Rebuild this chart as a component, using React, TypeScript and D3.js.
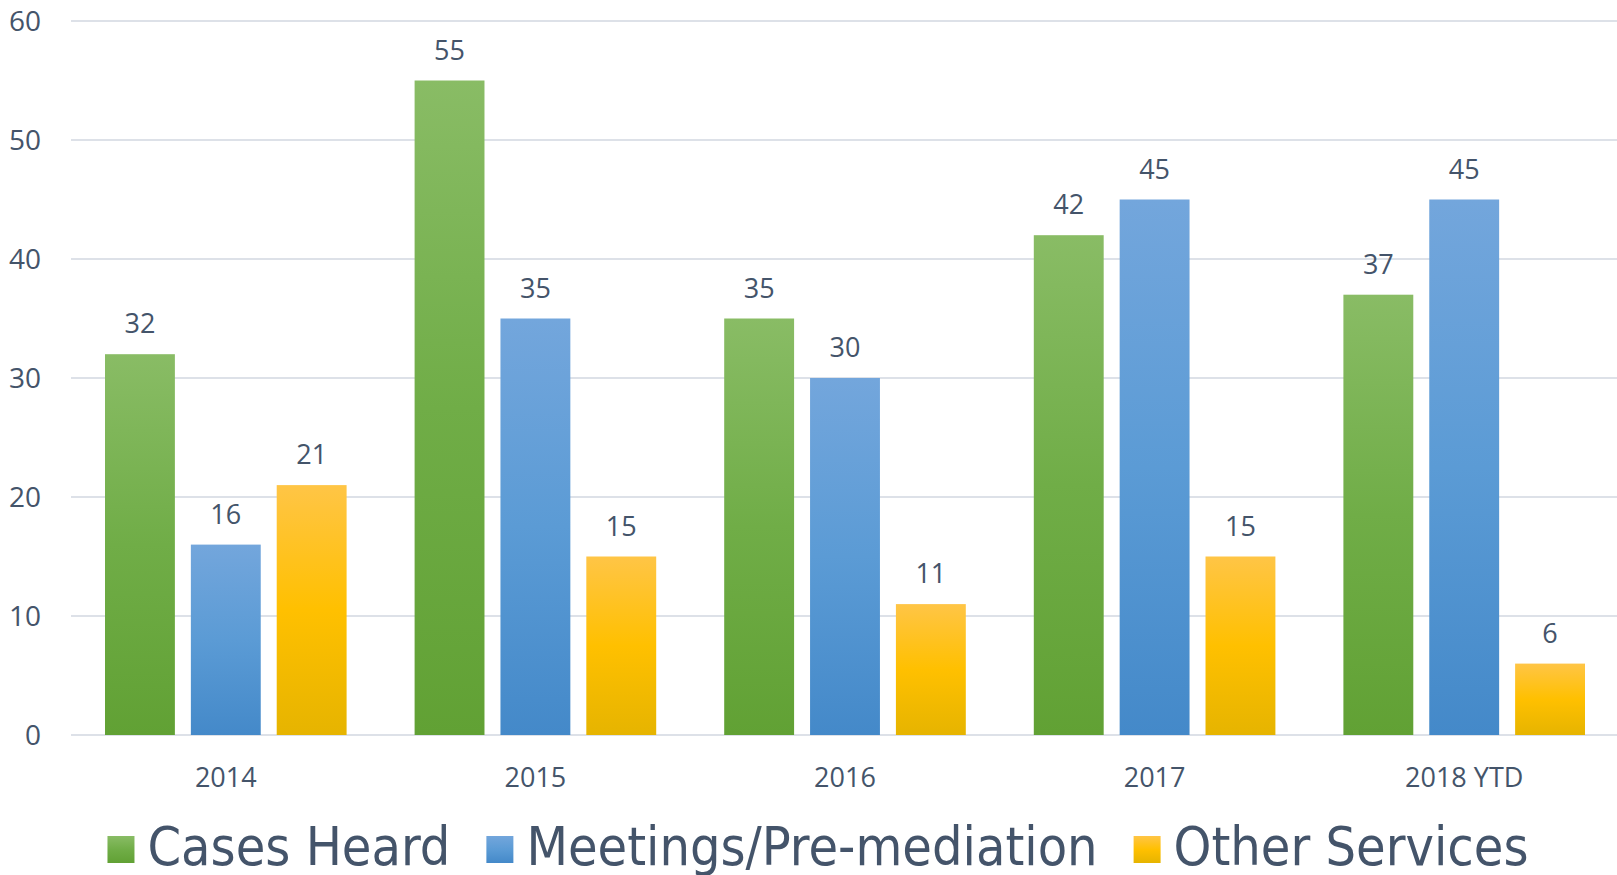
import { useEffect, useRef } from 'react';
import * as d3 from 'd3';

const categories = ['2014', '2015', '2016', '2017', '2018 YTD'];
const seriesNames = ['Cases Heard', 'Meetings/Pre-mediation', 'Other Services'];
const casesHeard = [32, 55, 35, 42, 37];
const meetings = [16, 35, 30, 45, 45];
const otherServices = [21, 15, 11, 15, 6];
const yTicks = [0, 10, 20, 30, 40, 50, 60];

// top / middle / bottom gradient stops per series
const palettes = [
  ['#89bc65', '#70ad47', '#61a134'],
  ['#73a6dc', '#5b9bd5', '#4489c9'],
  ['#ffc546', '#ffc000', '#e6b400'],
];

const textColor = '#44546a';
const numFont = '"Open Sans", "Noto Sans", sans-serif';

export default function App() {
  const svgRef = useRef<SVGSVGElement>(null);

  useEffect(() => {
    if (!svgRef.current) return;
    const svg = d3.select(svgRef.current);
    svg.selectAll('*').remove();

    const width = 1617;
    const height = 875;
    const plot = { left: 71, right: 1619, top: 21, bottom: 735 };

    const values = [casesHeard, meetings, otherServices];

    const x0 = d3.scaleBand<string>().domain(categories).range([plot.left, plot.right]).padding(0);
    const x1 = d3.scaleBand<number>()
      .domain([0, 1, 2])
      .range([34, x0.bandwidth() - 34])
      .paddingInner(16 / 86)
      .paddingOuter(0);
    const y = d3.scaleLinear().domain([0, 60]).range([plot.bottom, plot.top]);

    const defs = svg.append('defs');
    palettes.forEach((p, i) => {
      const g = defs.append('linearGradient')
        .attr('id', `grad-${i}`)
        .attr('x1', 0).attr('y1', 0).attr('x2', 0).attr('y2', 1);
      g.append('stop').attr('offset', '0%').attr('stop-color', p[0]);
      g.append('stop').attr('offset', '50%').attr('stop-color', p[1]);
      g.append('stop').attr('offset', '100%').attr('stop-color', p[2]);
    });

    // gridlines
    svg.append('g')
      .selectAll('line')
      .data(yTicks)
      .enter().append('line')
      .attr('x1', plot.left)
      .attr('x2', width)
      .attr('y1', d => y(d))
      .attr('y2', d => y(d))
      .attr('stroke', '#dde1e8')
      .attr('stroke-width', 2);

    // y tick labels
    svg.append('g')
      .selectAll('text')
      .data(yTicks)
      .enter().append('text')
      .attr('x', 41)
      .attr('y', d => y(d) + 10)
      .attr('text-anchor', 'end')
      .attr('font-family', numFont)
      .attr('font-size', 28)
      .attr('fill', textColor)
      .text(d => d);

    // bars
    values.forEach((series, si) => {
      const g = svg.append('g');
      g.selectAll('rect')
        .data(series)
        .enter().append('rect')
        .attr('x', (_, i) => x0(categories[i])! + x1(si)!)
        .attr('y', d => y(d))
        .attr('width', x1.bandwidth())
        .attr('height', d => y(0) - y(d))
        .attr('fill', `url(#grad-${si})`);

      g.selectAll('text')
        .data(series)
        .enter().append('text')
        .attr('x', (_, i) => x0(categories[i])! + x1(si)! + x1.bandwidth() / 2)
        .attr('y', d => y(d) - 21)
        .attr('text-anchor', 'middle')
        .attr('font-family', numFont)
        .attr('font-size', 27)
        .attr('fill', textColor)
        .text(d => d);
    });

    // category labels
    svg.append('g')
      .selectAll('text')
      .data(categories)
      .enter().append('text')
      .attr('x', d => x0(d)! + x0.bandwidth() / 2)
      .attr('y', 787)
      .attr('text-anchor', 'middle')
      .attr('font-family', numFont)
      .attr('font-size', 27)
      .attr('fill', textColor)
      .text(d => d);

    // legend
    const legend = svg.append('g');
    const items = seriesNames.map((name, i) => {
      const item = legend.append('g');
      item.append('rect')
        .attr('x', 0)
        .attr('y', 836)
        .attr('width', 27)
        .attr('height', 27)
        .attr('fill', `url(#grad-${i})`);
      const t = item.append('text')
        .attr('x', 40)
        .attr('y', 865)
        .attr('font-family', '"DejaVu Sans Condensed", "DejaVu Sans", sans-serif')
        .attr('font-size', 53.5)
        .attr('fill', textColor)
        .text(name);
      const w = (t.node() as SVGTextElement).getComputedTextLength();
      return { item, w: 40 + w };
    });
    const gap = 36;
    const total = d3.sum(items, d => d.w) + gap * (items.length - 1);
    let cx = 818 - total / 2;
    items.forEach(d => {
      d.item.attr('transform', `translate(${cx},0)`);
      cx += d.w + gap;
    });

    svg.attr('width', width).attr('height', height);
  }, []);

  return (
    <div style={{ position: 'absolute', left: 0, top: 0, background: '#fff' }}>
      <svg ref={svgRef} width={1617} height={875} style={{ display: 'block' }} />
    </div>
  );
}
